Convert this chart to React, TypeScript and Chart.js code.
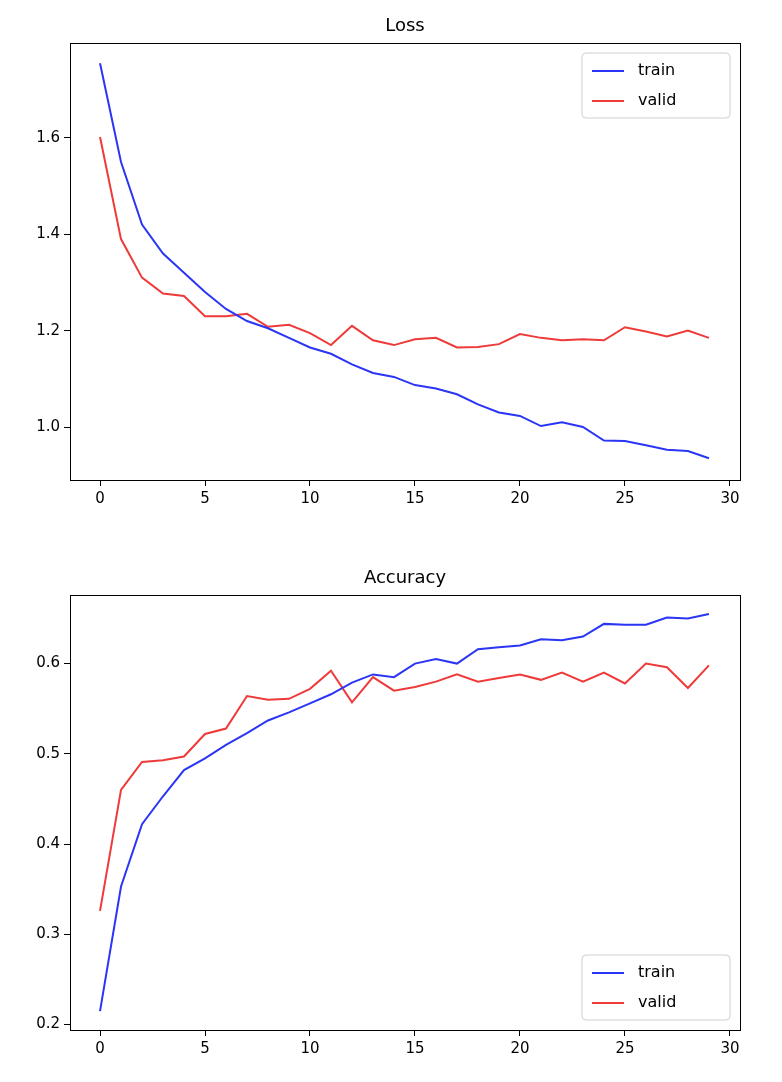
import React, { useEffect, useRef } from "react";
import { Chart, registerables } from "chart.js";
Chart.register(...registerables);

const epochs = Array.from({ length: 30 }, (_, i) => i);
const lossTrain = [1.755,1.55,1.42,1.36,1.32,1.28,1.245,1.22,1.205,1.185,1.165,1.152,1.13,1.112,1.104,1.087,1.08,1.068,1.047,1.03,1.023,1.002,1.01,1.0,0.972,0.971,0.962,0.953,0.95,0.935];
const lossValid = [1.602,1.39,1.31,1.277,1.272,1.23,1.23,1.235,1.208,1.212,1.195,1.17,1.21,1.18,1.17,1.182,1.185,1.165,1.166,1.172,1.193,1.185,1.18,1.182,1.18,1.207,1.198,1.188,1.2,1.185];
const accTrain = [0.215,0.353,0.422,0.453,0.482,0.495,0.51,0.523,0.537,0.546,0.556,0.566,0.579,0.588,0.585,0.6,0.605,0.6,0.616,0.618,0.62,0.627,0.626,0.63,0.644,0.643,0.643,0.651,0.65,0.655];
const accValid = [0.326,0.46,0.491,0.493,0.497,0.522,0.528,0.564,0.56,0.561,0.572,0.592,0.557,0.585,0.57,0.574,0.58,0.588,0.58,0.584,0.588,0.582,0.59,0.58,0.59,0.578,0.6,0.596,0.573,0.598];
const xTicks = [0, 5, 10, 15, 20, 25, 30];
const lossTicks = [1.0, 1.2, 1.4, 1.6];
const accTicks = [0.2, 0.3, 0.4, 0.5, 0.6];
const seriesNames = ["train", "valid"];
const colors = ["#2b35f5", "#ef3a3a"];
const FONT = "DejaVu Sans";

function makeChart(canvas: HTMLCanvasElement, title: string, train: number[], valid: number[], yMin: number, yMax: number, yTicks: number[], topPad: number, xHeight: number, legendPos: "top" | "bottom") {
  const framePlugin = {
    id: "frame",
    afterDraw(chart: any) {
      const { ctx, chartArea: a } = chart;
      ctx.save();
      ctx.fillStyle = "#000";
      ctx.font = `18px "${FONT}"`;
      ctx.textAlign = "center";
      ctx.textBaseline = "bottom";
      ctx.fillText(title, (a.left + a.right) / 2, a.top - 8);
      ctx.textAlign = "left";
      ctx.strokeStyle = "#000";
      ctx.lineWidth = 1;
      ctx.strokeRect(a.left + 0.5, a.top + 0.5, a.right - a.left, a.bottom - a.top);
      const w = 148, h = 65;
      const x = a.right - 10 - w;
      const y = legendPos === "top" ? a.top + 10 : a.bottom - 10 - h;
      ctx.fillStyle = "rgba(255,255,255,0.8)";
      ctx.strokeStyle = "#d0d0d0";
      ctx.beginPath();
      (ctx as any).roundRect(x, y, w, h, 4);
      ctx.fill();
      ctx.stroke();
      ctx.font = `16px "${FONT}"`;
      ctx.textBaseline = "middle";
      seriesNames.forEach((n, i) => {
        const ly = y + 18 + i * 30;
        ctx.strokeStyle = colors[i];
        ctx.lineWidth = 2;
        ctx.beginPath();
        ctx.moveTo(x + 10, ly);
        ctx.lineTo(x + 42, ly);
        ctx.stroke();
        ctx.fillStyle = "#000";
        ctx.fillText(n, x + 56, ly);
      });
      ctx.restore();
    },
  };
  return new Chart(canvas, {
    type: "line",
    data: {
      datasets: [train, valid].map((d, i) => ({
        label: seriesNames[i],
        data: d.map((v, j) => ({ x: epochs[j], y: v })),
        borderColor: colors[i],
        borderWidth: 2,
        pointRadius: 0,
        tension: 0,
      })),
    },
    options: {
      animation: false,
      responsive: false,
      layout: { padding: { left: 0, right: 42, top: topPad, bottom: 0 } },
      plugins: {
        legend: { display: false },
        tooltip: { enabled: false },
        title: { display: false },
      },
      scales: {
        x: {
          type: "linear",
          min: -1.43,
          max: 30.48,
          afterBuildTicks: (s: any) => { s.ticks = xTicks.map((v) => ({ value: v })); },
          afterFit: (s: any) => { s.height = xHeight; },
          grid: { drawOnChartArea: false, tickLength: 6, color: "#000" },
          border: { display: false },
          ticks: { color: "#000", font: { family: FONT, size: 15 }, padding: 4, maxRotation: 0 },
        },
        y: {
          min: yMin,
          max: yMax,
          afterBuildTicks: (s: any) => { s.ticks = yTicks.map((v) => ({ value: v })); },
          afterFit: (s: any) => { s.width = 70; },
          grid: { drawOnChartArea: false, tickLength: 6, color: "#000" },
          border: { display: false },
          ticks: { color: "#000", font: { family: FONT, size: 15 }, padding: 4, callback: (v: any) => Number(v).toFixed(1) },
        },
      },
    },
    plugins: [framePlugin],
  } as any);
}

export default function App() {
  const r1 = useRef<HTMLCanvasElement>(null);
  const r2 = useRef<HTMLCanvasElement>(null);
  useEffect(() => {
    document.body.style.margin = "0";
    const c1 = makeChart(r1.current!, "Loss", lossTrain, lossValid, 0.89, 1.797, lossTicks, 43, 61, "top");
    const c2 = makeChart(r2.current!, "Accuracy", accTrain, accValid, 0.194, 0.676, accTicks, 54, 52, "bottom");
    return () => { c1.destroy(); c2.destroy(); };
  }, []);
  return (
    <div style={{ width: 782, background: "#fff" }}>
      <canvas ref={r1} width={782} height={541} style={{ display: "block" }} />
      <canvas ref={r2} width={782} height={541} style={{ display: "block" }} />
    </div>
  );
}
